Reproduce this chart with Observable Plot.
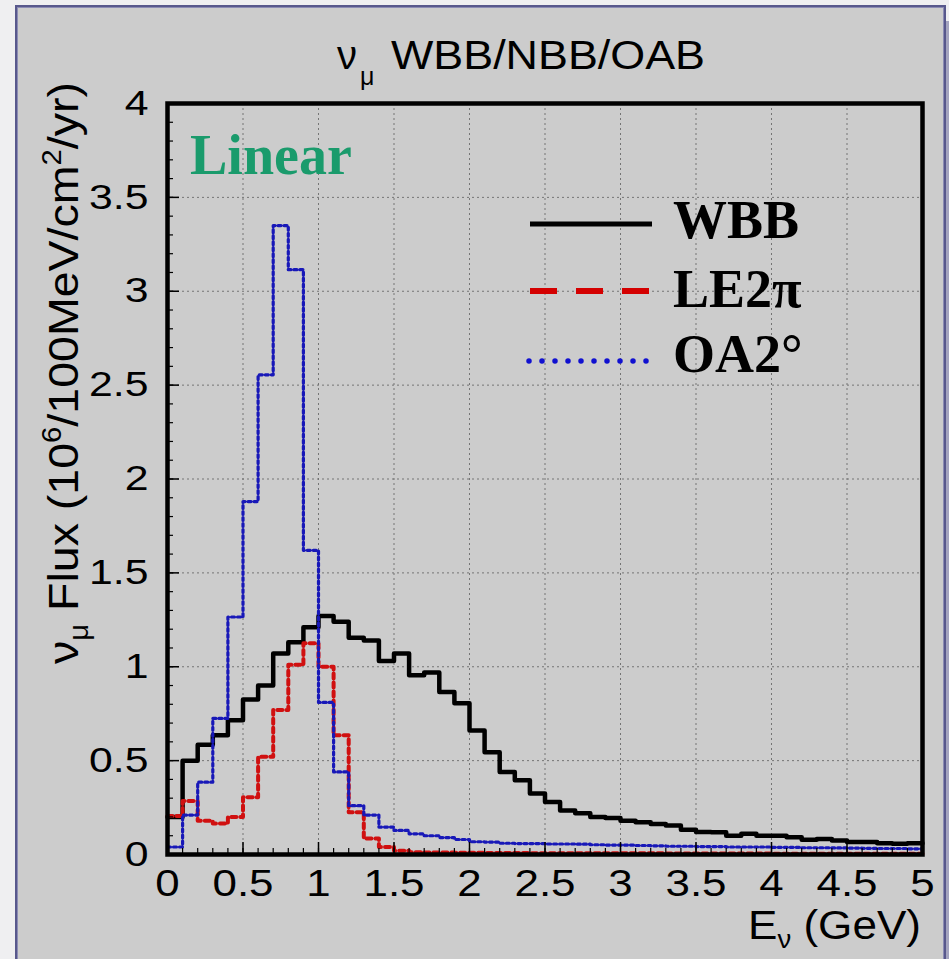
<!DOCTYPE html>
<html>
<head>
<meta charset="utf-8">
<script src="https://cdn.jsdelivr.net/npm/d3@7"></script>
<script src="https://cdn.jsdelivr.net/npm/@observablehq/plot@0.6"></script>
<style>
  html, body { margin: 0; padding: 0; width: 949px; height: 959px; overflow: hidden; background: #efeff1; }
  #panel {
    position: absolute; left: 15px; top: 5px; width: 931px; height: 975px;
    box-sizing: border-box; background: #cccccc;
    border: 2px solid #58588c;
    box-shadow: inset 0 0 0 1px #8c8cb4, 3px 16px 0 0 #a4a4bf;
  }
  #chart { position: absolute; left: 0; top: 0; }
</style>
</head>
<body>
<div id="panel"></div>
<div id="chart"></div>
<script>
// nu_mu flux per 100 MeV bin, 0-5 GeV (units of 10^6 /100MeV/cm^2/yr)
const binWidth = 0.1;

const wbb = [
  0.20, 0.50, 0.585, 0.635, 0.715, 0.825, 0.90, 1.07, 1.13, 1.21,
  1.27, 1.24, 1.155, 1.14, 1.03, 1.07, 0.955, 0.97, 0.865, 0.805,
  0.66, 0.545, 0.44, 0.395, 0.325, 0.28, 0.235, 0.22, 0.20, 0.195,
  0.18, 0.172, 0.163, 0.155, 0.132, 0.12, 0.118, 0.10, 0.11, 0.10,
  0.10, 0.092, 0.078, 0.083, 0.075, 0.066, 0.066, 0.06, 0.057, 0.06
];

const le2pi = [
  0.205, 0.285, 0.18, 0.165, 0.20, 0.305, 0.52, 0.77, 1.01, 1.125,
  1.00, 0.635, 0.225, 0.085, 0.04, 0.02, 0.012, 0.01, 0.01, 0.009,
  0.009, 0.008, 0.008, 0.008, 0.007, 0.007, 0.007, 0.007, 0.006, 0.006,
  0.006, 0.006, 0.006, 0.005, 0.005, 0.005, 0.005, 0.005, 0.005, 0.005,
  0.004, 0.004, 0.004, 0.004, 0.004, 0.004, 0.004, 0.004, 0.004, 0.004
];

const oa2 = [
  0.04, 0.21, 0.385, 0.725, 1.265, 1.88, 2.555, 3.35, 3.115, 1.62,
  0.81, 0.44, 0.26, 0.21, 0.146, 0.128, 0.11, 0.10, 0.09, 0.08,
  0.068, 0.066, 0.06, 0.058, 0.058, 0.056, 0.056, 0.055, 0.052, 0.05,
  0.05, 0.048, 0.046, 0.044, 0.044, 0.042, 0.042, 0.04, 0.04, 0.04,
  0.038, 0.038, 0.036, 0.036, 0.035, 0.034, 0.033, 0.032, 0.032, 0.03
];

const xTicks = [0, 0.5, 1, 1.5, 2, 2.5, 3, 3.5, 4, 4.5, 5];
const yTicks = [0, 0.5, 1, 1.5, 2, 2.5, 3, 3.5, 4];
const xGrid = xTicks.filter(d => d > 0 && d < 5);
const yGrid = yTicks.filter(d => d > 0 && d < 4);
const xMinor = d3.range(1, 50).map(i => i * binWidth);
const yMinor = d3.range(1, 40).map(i => i / 10);

const seriesNames = ["WBB", "LE2\u03c0", "OA2\u00b0"];

// step outline: one point per bin's low edge, plus the closing upper edge
function steps(values) {
  const pts = values.map((v, i) => ({x: i * binWidth, y: v}));
  pts.push({x: values.length * binWidth, y: values[values.length - 1]});
  return pts;
}

const W = 949, H = 959;
const mL = 167, mR = 27, mT = 103, mB = 105;
const frameW = W - mL - mR, frameH = H - mT - mB;

const svg = Plot.plot({
  width: W, height: H,
  marginLeft: mL, marginRight: mR, marginTop: mT, marginBottom: mB,
  style: {background: "transparent", fontFamily: "'Liberation Sans', Arial, sans-serif", color: "black", overflow: "visible"},
  x: {domain: [0, 5]},
  y: {domain: [0, 4]},
  marks: [
    Plot.gridX(xGrid, {stroke: "#6a6a6a", strokeOpacity: 0.9, strokeDasharray: "2,3"}),
    Plot.gridY(yGrid, {stroke: "#6a6a6a", strokeOpacity: 0.9, strokeDasharray: "2,3"}),
    Plot.line(steps(wbb), {x: "x", y: "y", curve: "step-after", stroke: "#000", strokeWidth: 4.5}),
    Plot.line(steps(le2pi), {x: "x", y: "y", curve: "step-after", stroke: "#d01010", strokeWidth: 4, strokeDasharray: "5,4"}),
    Plot.line(steps(oa2), {x: "x", y: "y", curve: "step-after", stroke: "#1818b8", strokeWidth: 3.2, strokeDasharray: "3,3"}),
    // inward ticks on the left and bottom edges
    Plot.tickX(xMinor, {x: d => d, stroke: "#000", strokeWidth: 1.2, insetTop: frameH - 6}),
    Plot.tickX(xGrid, {x: d => d, stroke: "#000", strokeWidth: 1.5, insetTop: frameH - 12}),
    Plot.tickY(yMinor, {y: d => d, stroke: "#000", strokeWidth: 1.2, insetRight: frameW - 6}),
    Plot.tickY(yGrid, {y: d => d, stroke: "#000", strokeWidth: 1.5, insetRight: frameW - 12}),
    Plot.frame({stroke: "#000", strokeWidth: 4.5}),
    Plot.axisX(xTicks, {tickSize: 0, tickPadding: 16, fontSize: 36, tickFormat: d => String(d), label: null}),
    Plot.axisY(yTicks, {tickSize: 0, tickPadding: 19, fontSize: 35, tickFormat: d => String(d), label: null})
  ]
});

document.getElementById("chart").append(svg);
const root = d3.select(svg);

// widen the sans-serif tick labels
root.selectAll("g[aria-label$='tick label'] text").each(function () {
  const w = this.getComputedTextLength();
  this.setAttribute("textLength", (w * 1.22).toFixed(1));
  this.setAttribute("lengthAdjust", "spacingAndGlyphs");
});

const sans = "'Liberation Sans', Arial, sans-serif";
const serif = "'Liberation Serif', 'Times New Roman', serif";
const g = root.append("g").attr("class", "annotations").attr("text-anchor", "start");

// title
g.append("text").attr("x", 337).attr("y", 69).attr("font-family", sans).attr("font-size", 40).text("\u03bd");
g.append("text").attr("x", 360).attr("y", 85).attr("font-family", sans).attr("font-size", 25).text("\u03bc");
g.append("text").attr("x", 391).attr("y", 69).attr("font-family", sans).attr("font-size", 40)
  .attr("textLength", 314).attr("lengthAdjust", "spacingAndGlyphs").text("WBB/NBB/OAB");

// y-axis title
const yl = g.append("text").attr("transform", "translate(78,664) rotate(-90)")
  .attr("font-family", sans).attr("font-size", 43)
  .attr("textLength", 582).attr("lengthAdjust", "spacingAndGlyphs");
yl.append("tspan").text("\u03bd");
yl.append("tspan").attr("font-size", 27).attr("dy", 10).text("\u03bc");
yl.append("tspan").attr("dy", -10).text(" Flux (10");
yl.append("tspan").attr("font-size", 27).attr("dy", -17).text("6");
yl.append("tspan").attr("dy", 17).text("/100MeV/cm");
yl.append("tspan").attr("font-size", 27).attr("dy", -17).text("2");
yl.append("tspan").attr("dy", 17).text("/yr)");

// x-axis title
const xl = g.append("text").attr("x", 748).attr("y", 939)
  .attr("font-family", sans).attr("font-size", 40)
  .attr("textLength", 173).attr("lengthAdjust", "spacingAndGlyphs");
xl.append("tspan").text("E");
xl.append("tspan").attr("font-size", 25).attr("dy", 9).text("\u03bd");
xl.append("tspan").attr("dy", -9).text(" (GeV)");

// scale tag
g.append("text").attr("x", 190).attr("y", 174).attr("font-family", serif).attr("font-weight", "bold")
  .attr("font-size", 56).attr("fill", "#1a9b6c").text("Linear");

// legend
const legendRows = [
  {name: seriesNames[0], y: 224, base: 238, stroke: "#000", width: 5, dash: null, cap: "butt", x1: 530, x2: 652},
  {name: seriesNames[1], y: 291, base: 307, stroke: "#d40000", width: 6, dash: "27,19", cap: "butt", x1: 530, x2: 650},
  {name: seriesNames[2], y: 361, base: 372, stroke: "#1010d0", width: 5.5, dash: "0,13", cap: "round", x1: 529, x2: 650}
];
for (const r of legendRows) {
  g.append("line").attr("x1", r.x1).attr("x2", r.x2).attr("y1", r.y).attr("y2", r.y)
    .attr("stroke", r.stroke).attr("stroke-width", r.width)
    .attr("stroke-dasharray", r.dash).attr("stroke-linecap", r.cap);
  g.append("text").attr("x", 673).attr("y", r.base).attr("font-family", serif).attr("font-weight", "bold")
    .attr("font-size", 54).attr("fill", "#000").text(r.name);
}
</script>
</body>
</html>
